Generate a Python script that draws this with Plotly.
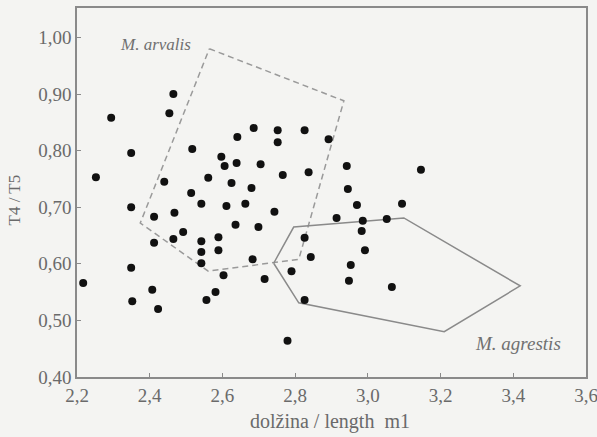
import plotly.graph_objects as go

# Data points: m1 length (x) and T4/T5 ratio (y)
length_m1 = [2.217, 2.252, 2.294, 2.349, 2.349, 2.349, 2.352, 2.407, 2.412, 2.412,
             2.423, 2.440, 2.454, 2.465, 2.468, 2.465, 2.492, 2.517, 2.514, 2.542,
             2.561, 2.542, 2.542, 2.542, 2.556, 2.581, 2.589, 2.589, 2.597, 2.606,
             2.603, 2.611, 2.625, 2.639, 2.641, 2.636, 2.663, 2.680, 2.686, 2.705,
             2.683, 2.699, 2.716, 2.743, 2.752, 2.752, 2.766, 2.779, 2.790, 2.826,
             2.892, 2.837, 2.942, 2.945, 3.146, 2.970, 3.094, 2.914, 2.986, 3.052,
             2.983, 2.826, 2.843, 2.992, 2.953, 2.948, 3.066, 2.826]
ratio_t4_t5 = [0.566, 0.753, 0.858, 0.796, 0.700, 0.593, 0.534, 0.554, 0.683, 0.637,
               0.520, 0.745, 0.866, 0.900, 0.690, 0.644, 0.656, 0.803, 0.725, 0.706,
               0.752, 0.640, 0.621, 0.601, 0.536, 0.550, 0.647, 0.624, 0.789, 0.773,
               0.580, 0.702, 0.743, 0.778, 0.824, 0.669, 0.706, 0.734, 0.840, 0.776,
               0.608, 0.665, 0.573, 0.692, 0.836, 0.815, 0.757, 0.464, 0.587, 0.836,
               0.820, 0.762, 0.773, 0.732, 0.766, 0.704, 0.706, 0.681, 0.676, 0.679,
               0.658, 0.646, 0.612, 0.624, 0.598, 0.570, 0.559, 0.536]

# Hull polygons
arvalis_x = [2.564, 2.934, 2.810, 2.561, 2.374, 2.564]
arvalis_y = [0.980, 0.888, 0.608, 0.587, 0.672, 0.980]
agrestis_x = [2.741, 2.796, 3.099, 3.419, 3.210, 2.810, 2.741]
agrestis_y = [0.601, 0.665, 0.681, 0.561, 0.480, 0.531, 0.601]

x_ticks = [2.2, 2.4, 2.6, 2.8, 3.0, 3.2, 3.4, 3.6]
x_ticktext = ["2,2", "2,4", "2,6", "2,8", "3,0", "3,2", "3,4", "3,6"]
y_ticks = [0.4, 0.5, 0.6, 0.7, 0.8, 0.9, 1.0]
y_ticktext = ["0,40", "0,50", "0,60", "0,70", "0,80", "0,90", "1,00"]

font_family = "'Liberation Serif', 'Times New Roman', Times, serif"
bg = "#f4f4f2"
txt = "#6a6a6a"

fig = go.Figure()
fig.add_trace(go.Scatter(x=arvalis_x, y=arvalis_y, mode="lines",
                         line=dict(color="#9a9a9a", width=1.5, dash="6px,4px"),
                         hoverinfo="skip", showlegend=False))
fig.add_trace(go.Scatter(x=agrestis_x, y=agrestis_y, mode="lines",
                         line=dict(color="#8a8a8a", width=1.5),
                         hoverinfo="skip", showlegend=False))
fig.add_trace(go.Scatter(x=length_m1, y=ratio_t4_t5, mode="markers",
                         marker=dict(color="#111111", size=8),
                         showlegend=False))

fig.add_annotation(x=2.415, y=0.987, text="<i>M. arvalis</i>", showarrow=False,
                   font=dict(family=font_family, size=17, color="#707070"))
fig.add_annotation(x=3.414, y=0.460, text="<i>M. agrestis</i>", showarrow=False,
                   font=dict(family=font_family, size=19, color="#707070"))

# axis titles
fig.add_annotation(xref="paper", yref="paper", x=0.5, y=0, yshift=-44,
                   yanchor="middle", xanchor="center",
                   xshift=-2, text="dolžina / length  m1", showarrow=False,
                   font=dict(family=font_family, size=20, color=txt))
fig.add_annotation(xref="paper", yref="paper", x=0, y=0.5, xshift=-63, yshift=-8,
                   xanchor="center", yanchor="middle",
                   text="T4 / T5", textangle=-90, showarrow=False,
                   font=dict(family=font_family, size=17, color=txt))

axis_common = dict(showline=True, mirror=True, linecolor="#8a8a8a", linewidth=1.5,
                   ticks="inside", ticklen=4, tickcolor="#8a8a8a", showgrid=False,
                   zeroline=False, automargin=False, ticklabeloverflow="allow",
                   tickfont=dict(family=font_family, size=19, color=txt))

fig.update_xaxes(range=[2.2, 3.6], tickvals=x_ticks, ticktext=x_ticktext,
                 **axis_common)
fig.update_yaxes(range=[0.40, 1.052], tickvals=y_ticks, ticktext=y_ticktext,
                 **axis_common)

fig.update_layout(width=597, height=437, paper_bgcolor=bg, plot_bgcolor=bg,
                  font=dict(family=font_family),
                  margin=dict(l=77, r=11, t=8, b=60))

fig.write_html("out.html", config={"displayModeBar": False},
               post_script="document.body.style.margin='0';")
